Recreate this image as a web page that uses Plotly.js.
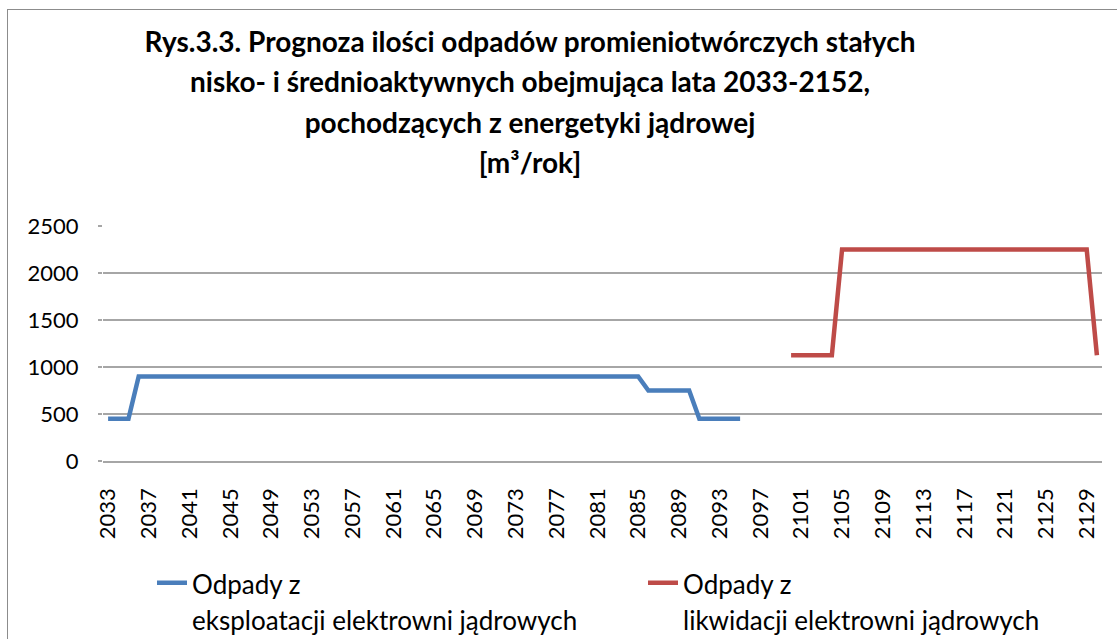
<!DOCTYPE html>
<html>
<head>
<meta charset="utf-8">
<script src="https://cdn.plot.ly/plotly-3.0.1.min.js"></script>
<style>
  html, body { margin: 0; padding: 0; background: #ffffff; }
  #wrap { position: relative; width: 1117px; height: 639px; overflow: hidden; }
  #frame { position: absolute; left: 7px; top: 9px; width: 1130px; height: 650px; border: 1px solid #8c8c8c; box-sizing: border-box; pointer-events: none; z-index: 5; }
  #chart { position: absolute; left: 0; top: 0; width: 1117px; height: 639px; }
</style>
</head>
<body>
<div id="wrap">
  <div id="chart"></div>
  <div id="frame"></div>
</div>
<script>
// Categories: years on the x axis
const years = [
  2033, 2034, 2035, 2036, 2037, 2038, 2039, 2040, 2041, 2042,
  2043, 2044, 2045, 2046, 2047, 2048, 2049, 2050, 2051, 2052,
  2053, 2054, 2055, 2056, 2057, 2058, 2059, 2060, 2061, 2062,
  2063, 2064, 2065, 2066, 2067, 2068, 2069, 2070, 2071, 2072,
  2073, 2074, 2075, 2076, 2077, 2078, 2079, 2080, 2081, 2082,
  2083, 2084, 2085, 2086, 2087, 2088, 2089, 2090, 2091, 2092,
  2093, 2094, 2095, 2096, 2097, 2098, 2099, 2100, 2101, 2102,
  2103, 2104, 2105, 2106, 2107, 2108, 2109, 2110, 2111, 2112,
  2113, 2114, 2115, 2116, 2117, 2118, 2119, 2120, 2121, 2122,
  2123, 2124, 2125, 2126, 2127, 2128, 2129, 2130
];

// Series 1: operation waste, years 2033-2095
const eksploatacjaYears = years.slice(0, 63);
const eksploatacja = [
  450, 450, 450, 900, 900, 900, 900, 900, 900, 900,
  900, 900, 900, 900, 900, 900, 900, 900, 900, 900,
  900, 900, 900, 900, 900, 900, 900, 900, 900, 900,
  900, 900, 900, 900, 900, 900, 900, 900, 900, 900,
  900, 900, 900, 900, 900, 900, 900, 900, 900, 900,
  900, 900, 900, 750, 750, 750, 750, 750, 450, 450,
  450, 450, 450
];

// Series 2: decommissioning waste, years 2100-2130
const likwidacjaYears = years.slice(67);
const likwidacja = [
  1125, 1125, 1125, 1125, 1125, 2250, 2250, 2250, 2250, 2250,
  2250, 2250, 2250, 2250, 2250, 2250, 2250, 2250, 2250, 2250,
  2250, 2250, 2250, 2250, 2250, 2250, 2250, 2250, 2250, 2250,
  1125
];

const seriesNames = [
  ['Odpady z', 'eksploatacji elektrowni jądrowych'],
  ['Odpady z', 'likwidacji elektrowni jądrowych']
];

const yTicks = [0, 500, 1000, 1500, 2000, 2500];
const xTickYears = years.filter((y, i) => i % 4 === 0);

const titleLines = [
  'Rys.3.3. Prognoza ilości odpadów promieniotwórczych stałych',
  'nisko- i średnioaktywnych obejmująca lata 2033-2152,',
  'pochodzących z energetyki jądrowej',
  '[m³/rok]'
];

function spanLines(lines, px) {
  return lines.map(t => '<span style="font-size:' + px + 'px">' + t + '</span>').join('<br>');
}

const traces = [
  {
    x: eksploatacjaYears.map(String),
    y: eksploatacja,
    name: spanLines(seriesNames[0], 26),
    type: 'scatter',
    mode: 'lines',
    line: { color: '#4A7EBB', width: 4.5 },
    legend: 'legend'
  },
  {
    x: likwidacjaYears.map(String),
    y: likwidacja,
    name: spanLines(seriesNames[1], 26),
    type: 'scatter',
    mode: 'lines',
    line: { color: '#BE4B48', width: 4.5 },
    legend: 'legend2'
  }
];

const FONT = 'Lato, "Open Sans", sans-serif';

const legendBase = {
  orientation: 'v',
  xanchor: 'left',
  y: -0.413,
  yanchor: 'top',
  valign: 'top',
  font: { family: FONT, size: 28, color: '#000000' },
  bgcolor: 'rgba(0,0,0,0)',
  borderwidth: 0
};

const layout = {
  width: 1117,
  height: 639,
  paper_bgcolor: '#ffffff',
  plot_bgcolor: '#ffffff',
  margin: { l: 103, r: 15, t: 226, b: 178, pad: 0, autoexpand: false },
  font: { family: FONT, size: 22, color: '#000000' },
  title: {
    text: spanLines(titleLines, 28),
    font: { family: FONT, size: 31, color: '#000000', weight: 'bold' },
    x: 530 / 1117,
    xanchor: 'center',
    xref: 'container',
    y: 1 - 52 / 639,
    yanchor: 'top',
    yref: 'container'
  },
  xaxis: {
    type: 'category',
    categoryorder: 'array',
    categoryarray: years.map(String),
    range: [-0.5, years.length - 0.5],
    tickmode: 'array',
    tickvals: xTickYears.map(String),
    ticktext: xTickYears.map(String),
    tickangle: -90,
    ticks: '',
    showgrid: false,
    showline: true,
    linecolor: '#a6a6a6',
    linewidth: 1.5,
    zeroline: false,
    tickfont: { family: FONT, size: 22, color: '#000000' },
    ticklabelstandoff: 17,
    fixedrange: true
  },
  yaxis: {
    range: [0, 2500],
    tickmode: 'array',
    tickvals: yTicks,
    ticktext: yTicks.map(String),
    showgrid: true,
    gridcolor: '#a6a6a6',
    gridwidth: 1.5,
    zeroline: false,
    showline: false,
    ticks: 'outside',
    ticklen: 4,
    tickcolor: '#a6a6a6',
    tickwidth: 1.5,
    tickfont: { family: FONT, size: 22, color: '#000000' },
    ticklabelstandoff: 15,
    fixedrange: true
  },
  showlegend: true,
  legend: Object.assign({}, legendBase, { x: (152 - 103) / 999 }),
  legend2: Object.assign({}, legendBase, { x: (643 - 103) / 999 })
};

Plotly.newPlot('chart', traces, layout, { displayModeBar: false, staticPlot: true });
</script>
</body>
</html>
